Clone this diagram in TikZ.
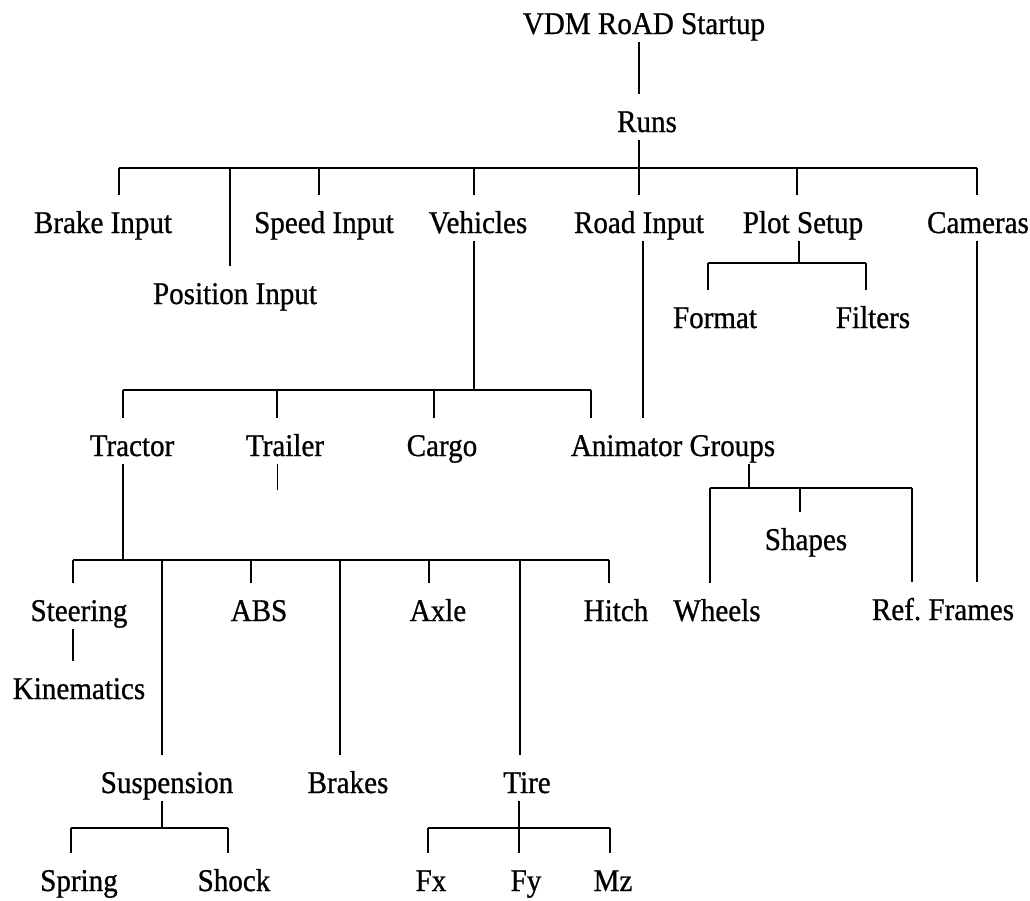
\documentclass[tikz,border=0pt]{standalone}
\usepackage{fontspec}
\setmainfont{Liberation Serif}[FakeStretch=0.92,FakeBold=0.8]
\usetikzlibrary{calc}
\tikzset{
    item/.style={font=\fontsize{15.8}{18}\selectfont, anchor=base, inner xsep=0pt, inner ysep=4pt, text height=15pt, text depth=0pt},
    bar/.style={line width=1.3pt, black},
    leg/.style={line width=0.9pt, black},
    thinleg/.style={line width=0.5pt, black},
}

\begin{document}
\begin{tikzpicture}[x=0.5pt, y=-0.5pt]
    \useasboundingbox (0,0) rectangle (1030,901);
    % Top
    \node[item] (startup) at (644,34) {VDM RoAD Startup};
    \node[item] (runs) at (647,132) {Runs};
    \coordinate (jruns) at (639,168);
    \draw[leg] (startup.south -| jruns) -- (runs.north -| jruns);
    \draw[leg] (runs.south -| jruns) -- (jruns);
    % First level
    \node[item] (brake) at (103,233) {Brake Input};
    \node[item] (position) at (235,304) {Position Input};
    \node[item] (speed) at (324,233) {Speed Input};
    \node[item] (vehicles) at (478,233) {Vehicles};
    \node[item] (road) at (639,233) {Road Input};
    \node[item] (plot) at (803,233) {Plot Setup};
    \node[item] (cameras) at (978,233) {Cameras};
    \foreach \x/\nd in {119/brake,230/position,319/speed,474/vehicles,639/road,797/plot,977/cameras} {
        \coordinate (j\nd) at (\x,168);
        \draw[leg] (j\nd) -- (j\nd |- \nd.north);
    }
    \draw[bar] (jbrake) -- (jcameras);
    % Plot setup
    \node[item] (format) at (715,328) {Format};
    \node[item] (filters) at (873,328) {Filters};
    \coordinate (jplot) at (799,263);
    \draw[leg] (plot.south -| jplot) -- (jplot);
    \foreach \x/\nd in {708/format,866/filters} {
        \coordinate (j\nd) at (\x,263);
        \draw[leg] (j\nd) -- (j\nd |- \nd.north);
    }
    \draw[bar] (jformat) -- (jfilters);
    % Vehicles
    \node[item] (tractor) at (132,456) {Tractor};
    \node[item] (trailer) at (285,456) {Trailer};
    \node[item] (cargo) at (442,456) {Cargo};
    \node[item] (animator) at (673,456) {Animator Groups};
    \coordinate (jveh) at (474,390);
    \draw[leg] (vehicles.south -| jveh) -- (jveh);
    \foreach \x/\nd in {123/tractor,277/trailer,434/cargo,591/animator} {
        \coordinate (j\nd) at (\x,390);
        \draw[leg] (j\nd) -- (j\nd |- \nd.north);
    }
    \draw[bar] (jtractor) -- (janimator);
    \coordinate (trailend) at (277,490);
    \draw[thinleg] (trailer.south -| trailend) -- (trailend);
    % Road input and cameras
    \coordinate (roadx) at (643,300);
    \draw[leg] (road.south -| roadx) -- (animator.north -| roadx);
    \node[item] (refframes) at (943,620) {Ref.\ Frames};
    \coordinate (camx) at (977,400);
    \draw[leg] (cameras.south -| camx) -- (refframes.north -| camx);
    % Animator groups
    \node[item] (shapes) at (806,550) {Shapes};
    \node[item] (wheels) at (717,621) {Wheels};
    \coordinate (janim) at (749,488);
    \draw[leg] (animator.south -| janim) -- (janim);
    \foreach \x/\nd in {710/wheels,800/shapes,912/refframes} {
        \coordinate (j\nd) at (\x,488);
        \draw[leg] (j\nd) -- (j\nd |- \nd.north);
    }
    \draw[bar] (jwheels) -- (jrefframes);
    % Tractor
    \node[item] (steering) at (79,621) {Steering};
    \node[item] (abs) at (259,621) {ABS};
    \node[item] (axle) at (438,621) {Axle};
    \node[item] (hitch) at (616,621) {Hitch};
    \node[item] (kinematics) at (79,699) {Kinematics};
    \node[item] (suspension) at (167,793) {Suspension};
    \node[item] (brakes) at (348,793) {Brakes};
    \node[item] (tire) at (527,793) {Tire};
    \coordinate (jtrac) at (123,560);
    \draw[leg] (tractor.south -| jtrac) -- (jtrac);
    \foreach \x/\nd in {73/steering,162/suspension,251/abs,340/brakes,429/axle,520/tire,609/hitch} {
        \coordinate (j\nd) at (\x,560);
        \draw[leg] (j\nd) -- (j\nd |- \nd.north);
    }
    \draw[bar] (jsteering) -- (jhitch);
    \coordinate (steerx) at (73,650);
    \draw[leg] (steering.south -| steerx) -- (kinematics.north -| steerx);
    % Suspension
    \node[item] (spring) at (79,891) {Spring};
    \node[item] (shock) at (234,891) {Shock};
    \coordinate (jsusp) at (162,828);
    \draw[leg] (suspension.south -| jsusp) -- (jsusp);
    \foreach \x/\nd in {71/spring,228/shock} {
        \coordinate (j\nd) at (\x,828);
        \draw[leg] (j\nd) -- (j\nd |- \nd.north);
    }
    \draw[bar] (jspring) -- (jshock);
    % Tire
    \node[item] (fx) at (431,891) {Fx};
    \node[item] (fy) at (526,891) {Fy};
    \node[item] (mz) at (613,891) {Mz};
    \coordinate (jtire) at (519,828);
    \draw[leg] (tire.south -| jtire) -- (jtire);
    \foreach \x/\nd in {428/fx,519/fy,610/mz} {
        \coordinate (j\nd) at (\x,828);
        \draw[leg] (j\nd) -- (j\nd |- \nd.north);
    }
    \draw[bar] (jfx) -- (jmz);
\end{tikzpicture}
\end{document}
